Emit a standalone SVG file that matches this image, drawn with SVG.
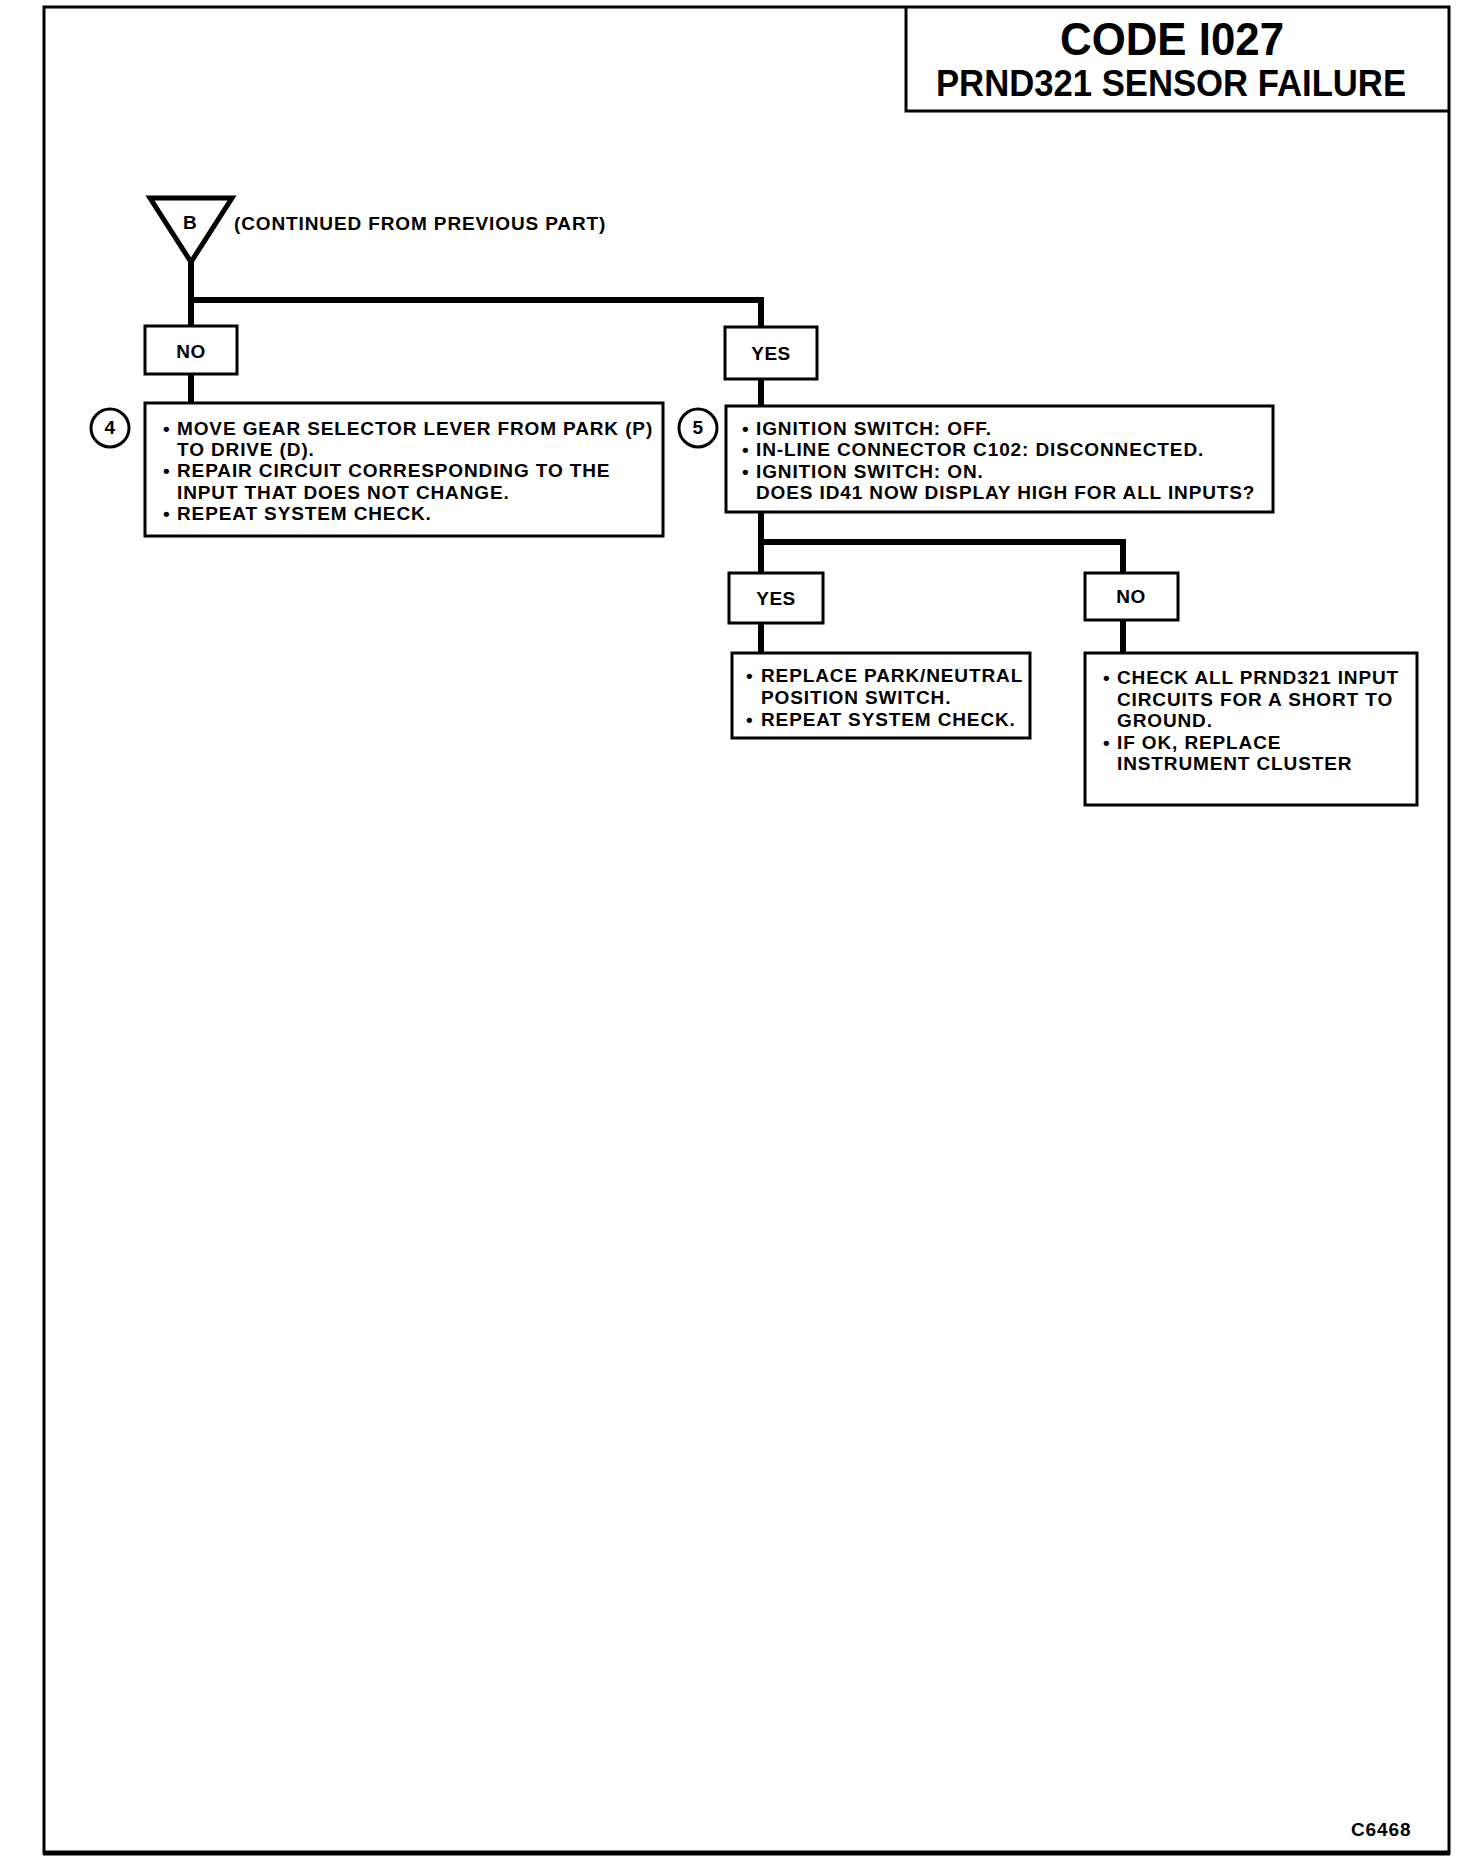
<svg xmlns="http://www.w3.org/2000/svg" width="1472" height="1864" viewBox="0 0 1472 1864">
<style>
.t{font-family:"Liberation Sans",Arial,Helvetica,sans-serif;font-weight:bold;font-size:19px;letter-spacing:0.88px;fill:#000}
.lbl{font-family:"Liberation Sans",Arial,Helvetica,sans-serif;font-weight:bold;font-size:19px;letter-spacing:0.5px;fill:#000;text-anchor:middle}
.box{fill:#fff;stroke:#000;stroke-width:3}
.conn{fill:none;stroke:#000;stroke-width:6;stroke-linejoin:miter;stroke-linecap:butt}
.ttl{font-family:"Liberation Sans",Arial,Helvetica,sans-serif;font-weight:bold;fill:#000}
</style>
<rect width="1472" height="1864" fill="#fff"/>
<g id="page">
<rect x="44" y="7" width="1405" height="1846" fill="none" stroke="#000" stroke-width="3"/>
<line x1="43" y1="1853" x2="1450" y2="1853" stroke="#000" stroke-width="5"/>
</g>
<g id="title">
<polyline points="906,7 906,111 1449,111" fill="none" stroke="#000" stroke-width="3"/>
<text class="ttl" x="1060" y="55" font-size="46" textLength="224" lengthAdjust="spacingAndGlyphs">CODE I027</text>
<text class="ttl" x="936" y="96" font-size="36" textLength="470" lengthAdjust="spacingAndGlyphs">PRND321 SENSOR FAILURE</text>
</g>
<g id="connectors">
<path class="conn" d="M191,258 V326"/>
<path class="conn" d="M188,300 H761 V327"/>
<path class="conn" d="M191,374 V403"/>
<path class="conn" d="M761,379 V406"/>
<path class="conn" d="M761,512 V573"/>
<path class="conn" d="M758,542 H1123 V573"/>
<path class="conn" d="M761,623 V653"/>
<path class="conn" d="M1123,620 V653"/>
</g>
<g id="start-b">
<polygon points="150,198 232,198 191,262" fill="#fff" stroke="#000" stroke-width="5" stroke-linejoin="miter"/>
<text class="lbl" x="190" y="229" font-size="18">B</text>
<text class="t" x="234" y="230">(CONTINUED FROM PREVIOUS PART)</text>
</g>
<g id="no1">
<rect class="box" x="145" y="326" width="92" height="48"/>
<text class="lbl" x="191" y="358">NO</text>
</g>
<g id="yes1">
<rect class="box" x="725" y="327" width="92" height="52"/>
<text class="lbl" x="771" y="360">YES</text>
</g>
<g id="step4">
<circle cx="110" cy="428" r="19" fill="#fff" stroke="#000" stroke-width="3"/>
<text class="lbl" x="110" y="434" font-size="17">4</text>
<rect class="box" x="145" y="403" width="518" height="133"/>
<text class="t"><tspan x="163" y="435">•</tspan><tspan x="177" y="435">MOVE GEAR SELECTOR LEVER FROM PARK (P)</tspan></text>
<text class="t" x="177" y="456">TO DRIVE (D).</text>
<text class="t"><tspan x="163" y="477">•</tspan><tspan x="177" y="477">REPAIR CIRCUIT CORRESPONDING TO THE</tspan></text>
<text class="t" x="177" y="499">INPUT THAT DOES NOT CHANGE.</text>
<text class="t"><tspan x="163" y="520">•</tspan><tspan x="177" y="520">REPEAT SYSTEM CHECK.</tspan></text>
</g>
<g id="step5">
<circle cx="698" cy="428" r="19" fill="#fff" stroke="#000" stroke-width="3"/>
<text class="lbl" x="698" y="434" font-size="17">5</text>
<rect class="box" x="726" y="406" width="547" height="106"/>
<text class="t"><tspan x="742" y="435">•</tspan><tspan x="756" y="435">IGNITION SWITCH: OFF.</tspan></text>
<text class="t"><tspan x="742" y="456">•</tspan><tspan x="756" y="456">IN-LINE CONNECTOR C102: DISCONNECTED.</tspan></text>
<text class="t"><tspan x="742" y="478">•</tspan><tspan x="756" y="478">IGNITION SWITCH: ON.</tspan></text>
<text class="t" x="756" y="499">DOES ID41 NOW DISPLAY HIGH FOR ALL INPUTS?</text>
</g>
<g id="yes2">
<rect class="box" x="729" y="573" width="94" height="50"/>
<text class="lbl" x="776" y="605">YES</text>
</g>
<g id="no2">
<rect class="box" x="1085" y="573" width="93" height="47"/>
<text class="lbl" x="1131" y="603">NO</text>
</g>
<g id="replace-switch">
<rect class="box" x="732" y="653" width="298" height="85"/>
<text class="t"><tspan x="746" y="682">•</tspan><tspan x="761" y="682">REPLACE PARK/NEUTRAL</tspan></text>
<text class="t" x="761" y="704">POSITION SWITCH.</text>
<text class="t"><tspan x="746" y="726">•</tspan><tspan x="761" y="726">REPEAT SYSTEM CHECK.</tspan></text>
</g>
<g id="check-circuits">
<rect class="box" x="1085" y="653" width="332" height="152"/>
<text class="t"><tspan x="1103" y="684">•</tspan><tspan x="1117" y="684">CHECK ALL PRND321 INPUT</tspan></text>
<text class="t" x="1117" y="706">CIRCUITS FOR A SHORT TO</text>
<text class="t" x="1117" y="727">GROUND.</text>
<text class="t"><tspan x="1103" y="749">•</tspan><tspan x="1117" y="749">IF OK, REPLACE</tspan></text>
<text class="t" x="1117" y="770">INSTRUMENT CLUSTER</text>
</g>
<g id="ref">
<text class="t" x="1351" y="1836" font-size="17" letter-spacing="0.5">C6468</text>
</g>
</svg>
